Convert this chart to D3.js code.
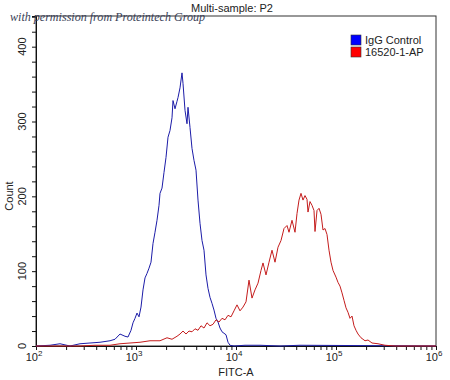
<!DOCTYPE html>
<html>
<head>
<meta charset="utf-8">
<script src="https://cdn.jsdelivr.net/npm/d3@7/dist/d3.min.js"></script>
<style>
  body { margin: 0; background: #fff; }
  svg text { font-family: "Liberation Sans", Arial, sans-serif; fill: #222; }
</style>
</head>
<body>
<svg id="chart" width="450" height="380"></svg>
<script>
// Histogram overlay: IgG control vs 16520-1-AP (FITC-A)

// log10(FITC-A) bin positions and counts
const iggLog = [2.00, 2.14, 2.24, 2.34, 2.44, 2.54, 2.64, 2.74, 2.79, 2.84, 2.89, 2.92, 2.95, 2.97, 2.99, 3.01, 3.03, 3.05, 3.07, 3.09,
  3.11, 3.13, 3.15, 3.17, 3.19, 3.21, 3.23, 3.24, 3.26, 3.28, 3.30, 3.32, 3.34, 3.36, 3.37, 3.39, 3.41, 3.42, 3.44, 3.46,
  3.47, 3.49, 3.51, 3.52, 3.54, 3.56, 3.58, 3.60, 3.62, 3.64, 3.66, 3.68, 3.70, 3.72, 3.74, 3.76, 3.78, 3.80, 3.82, 3.84,
  3.86, 3.88, 3.90, 3.92, 3.94, 3.98, 4.09, 4.24, 4.44, 4.64, 6.00];
const iggCount = [0, 1, 3, 0, 3, 4, 5, 7, 9, 16, 13, 12, 21, 31, 37, 44, 39, 52, 75, 91,
  97, 104, 112, 137, 152, 168, 188, 204, 211, 232, 252, 279, 288, 305, 328, 317, 327, 332, 345, 365,
  351, 315, 297, 319, 292, 264, 248, 235, 195, 164, 141, 128, 95, 77, 65, 57, 48, 37, 32, 24,
  19, 17, 15, 5, 1, 0, 1, 1, 0, 1, 0];

const apLog = [2.00, 2.44, 2.59, 2.74, 2.84, 2.94, 3.04, 3.14, 3.24, 3.31, 3.36, 3.41, 3.44, 3.47, 3.50, 3.53, 3.56, 3.59, 3.62, 3.65,
  3.68, 3.71, 3.74, 3.77, 3.80, 3.83, 3.86, 3.89, 3.92, 3.95, 3.98, 4.01, 4.04, 4.07, 4.10, 4.13, 4.16, 4.19, 4.22, 4.25,
  4.27, 4.30, 4.33, 4.36, 4.39, 4.42, 4.45, 4.48, 4.51, 4.53, 4.56, 4.59, 4.61, 4.63, 4.65, 4.67, 4.69, 4.71, 4.72, 4.74,
  4.76, 4.78, 4.79, 4.81, 4.83, 4.85, 4.87, 4.89, 4.91, 4.93, 4.95, 4.97, 5.00, 5.02, 5.04, 5.06, 5.08, 5.10, 5.12, 5.14,
  5.16, 5.18, 5.20, 5.22, 5.25, 5.29, 5.32, 5.36, 5.42, 5.49, 5.59, 6.00];
const apCount = [0, 0, 1, 1, 3, 4, 5, 7, 7, 11, 9, 13, 16, 20, 16, 20, 19, 23, 21, 27,
  24, 31, 27, 29, 35, 32, 37, 35, 41, 39, 47, 55, 47, 52, 59, 88, 64, 75, 84, 101,
  111, 95, 112, 128, 112, 132, 141, 157, 161, 152, 168, 152, 177, 195, 204, 195, 201, 196, 179, 193,
  188, 181, 153, 181, 184, 176, 155, 157, 149, 128, 112, 101, 92, 85, 80, 71, 61, 51, 45, 37,
  40, 27, 21, 16, 11, 7, 8, 4, 3, 1, 0, 0];

const seriesNames = ['IgG Control', '16520-1-AP'];
const seriesColors = ['#1c1ca8', '#c41c1c'];
const legendColors = ['#0000ff', '#ff0000'];
const yTicks = [0, 100, 200, 300, 400];
const xExponents = [2, 3, 4, 5, 6];

const margin = { top: 16, right: 14, bottom: 34, left: 36 };
const width = 450, height = 380;
const svg = d3.select('#chart');

const x = d3.scaleLog().domain([1e2, 1e6]).range([margin.left, width - margin.right]);
const y = d3.scaleLinear().domain([0, 441]).range([height - margin.bottom, margin.top]);

// frame
svg.append('rect')
  .attr('x', margin.left).attr('y', margin.top)
  .attr('width', x(1e6) - margin.left).attr('height', y(0) - margin.top)
  .attr('fill', 'none').attr('stroke', '#333').attr('stroke-width', 1);

// y axis
const yMinor = d3.range(0, 441, 20);
const yAxis = d3.axisLeft(y).tickValues(yMinor).tickSize(4).tickFormat('');
svg.append('g').attr('transform', `translate(${margin.left},0)`).call(yAxis)
  .call(g => g.select('.domain').attr('stroke', '#111'))
  .call(g => g.selectAll('line').attr('stroke', '#111'));

svg.append('g').selectAll('text').data(yTicks).join('text')
  .attr('transform', d => `translate(${margin.left - 10},${y(d)}) rotate(-90)`)
  .attr('text-anchor', 'middle')
  .attr('font-size', 11)
  .text(d => d);

svg.append('text')
  .attr('transform', `translate(13,${(y(0) + margin.top) / 2 + 15}) rotate(-90)`)
  .attr('text-anchor', 'middle').attr('font-size', 11)
  .text('Count');

// x axis
const xMinor = [];
xExponents.slice(0, -1).forEach(e => {
  for (let m = 1; m < 10; m++) xMinor.push(m * Math.pow(10, e));
});
xMinor.push(1e6);
const xAxis = d3.axisBottom(x).tickValues(xMinor).tickSize(4).tickFormat('');
svg.append('g').attr('transform', `translate(0,${y(0)})`).call(xAxis)
  .call(g => g.select('.domain').attr('stroke', '#111'))
  .call(g => g.selectAll('line').attr('stroke', '#111'));

const xl = svg.append('g').selectAll('text').data(xExponents).join('text')
  .attr('x', d => x(Math.pow(10, d)) - 2)
  .attr('y', y(0) + 15)
  .attr('text-anchor', 'middle')
  .attr('font-size', 11);
xl.append('tspan').text('10');
xl.append('tspan').attr('dy', -5).attr('font-size', 8).text(d => d);

svg.append('text')
  .attr('x', (margin.left + x(1e6)) / 2).attr('y', 376)
  .attr('text-anchor', 'middle').attr('font-size', 11)
  .text('FITC-A');

// title
svg.append('text')
  .attr('x', 232).attr('y', 12)
  .attr('text-anchor', 'middle').attr('font-size', 11)
  .text('Multi-sample: P2');

// curves
const line = d3.line()
  .x(d => x(Math.pow(10, d[0])))
  .y(d => y(d[1]));

const series = [d3.zip(iggLog, iggCount), d3.zip(apLog, apCount)];
svg.append('g').selectAll('path').data(series).join('path')
  .attr('d', line)
  .attr('fill', 'none')
  .attr('stroke', (d, i) => seriesColors[i])
  .attr('stroke-width', 1);

// legend
const lg = svg.append('g').attr('transform', 'translate(351,35)');
const item = lg.selectAll('g').data(seriesNames).join('g')
  .attr('transform', (d, i) => `translate(0,${i * 12})`);
item.append('rect')
  .attr('width', 10).attr('height', 10)
  .attr('fill', (d, i) => legendColors[i])
  .attr('stroke', '#333').attr('stroke-width', 0.6);
item.append('text')
  .attr('x', 14).attr('y', 9)
  .attr('font-size', 11)
  .text(d => d);

// watermark
svg.append('text')
  .attr('x', 10).attr('y', 21)
  .attr('font-size', 12)
  .attr('textLength', 195)
  .attr('lengthAdjust', 'spacingAndGlyphs')
  .style('font-family', '"Liberation Serif", "DejaVu Serif", serif')
  .style('font-style', 'italic')
  .style('fill', '#3a3f58')
  .text('with permission from Proteintech Group');
</script>
</body>
</html>
